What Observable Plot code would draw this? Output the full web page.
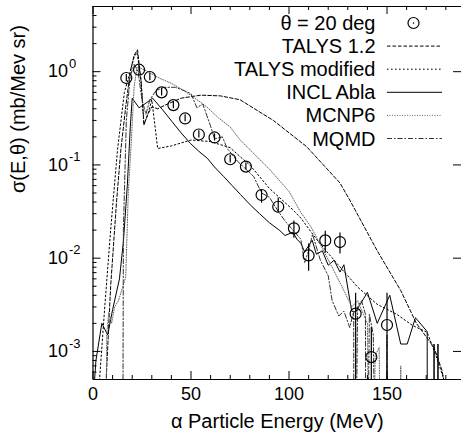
<!DOCTYPE html>
<html><head><meta charset="utf-8">
<script src="https://cdn.jsdelivr.net/npm/d3@7"></script>
<script src="https://cdn.jsdelivr.net/npm/@observablehq/plot@0.6"></script>
<style>body{margin:0;background:#fff}</style>
</head><body><div id="chart"></div>
<script>
// ---- data ----
const expE  = [17, 23.5, 29, 35, 41, 47, 54, 62, 70, 78, 86, 94.5, 102.5, 110, 118.5, 126, 134, 142, 150];
const expV  = [0.855, 1.05, 0.877, 0.60, 0.438, 0.315, 0.212, 0.197, 0.115, 0.096, 0.0476, 0.0356, 0.0209, 0.0107, 0.0155, 0.0149, 0.00254, 0.00087, 0.00192];
const expLo = [0.78, 0.96, 0.80, 0.55, 0.40, 0.29, 0.194, 0.18, 0.105, 0.088, 0.0389, 0.0305, 0.0164, 0.00724, 0.0113, 0.0111, 0.0001, 0.0001, 0.0001];
const expHi = [0.93, 1.15, 0.96, 0.66, 0.48, 0.345, 0.232, 0.215, 0.126, 0.105, 0.0538, 0.0442, 0.025, 0.01415, 0.0195, 0.0186, 0.0042, 0.0018, 0.0042];

const talys12E = [6.5, 9, 12, 14.2, 16.7, 19, 21, 22.7, 24.5, 26, 28, 30, 33, 38, 45, 55, 65, 75, 92, 109, 126, 131, 145, 157, 165, 174, 178, 181];
const talys12V = [0.0004, 0.005, 0.04, 0.145, 0.42, 1.0, 1.5, 1.72, 0.8, 0.27, 0.35, 0.42, 0.4, 0.45, 0.52, 0.56, 0.55, 0.5, 0.3, 0.157, 0.064, 0.042, 0.012, 0.0045, 0.002, 0.0011, 0.00063, 0.0003];

const talysModE = [3, 6, 9, 12.5, 16, 19, 21, 22.5, 24.5, 26, 28, 30, 33, 40, 50, 60, 70, 75, 80, 90, 102, 106, 115, 125, 135, 145, 155, 163, 170.5, 175, 179];
const talysModV = [0.0004, 0.003, 0.02, 0.145, 0.6, 1.0, 1.45, 1.6, 0.8, 0.27, 0.35, 0.5, 0.15, 0.16, 0.185, 0.178, 0.153, 0.123, 0.1, 0.056, 0.033, 0.027, 0.015, 0.0085, 0.0049, 0.0032, 0.0025, 0.0019, 0.0016, 0.0009, 0.0005];

const inclE = [0.5, 1.5, 4.5, 7.5, 10, 13.5, 15.5, 17.5, 19, 20, 23.5, 27, 30.4, 35.5, 40.4, 45, 49.7, 54, 58.3, 62, 66.7, 71, 75.3, 80.4, 85, 90, 95, 98, 102, 104, 106, 108, 111.8, 114, 117, 120, 123, 126, 128, 132, 134, 140, 145, 151.4, 157, 160.3, 164.5, 170.5, 170.6, 173.8, 174, 174.2, 175.8, 176, 176.2];
const inclV = [0.0004, 0.0008, 0.002, 0.0015, 0.0028, 0.006, 0.015, 0.06, 0.25, 0.52, 0.41, 0.46, 0.52, 0.39, 0.29, 0.22, 0.17, 0.14, 0.118, 0.095, 0.075, 0.06, 0.048, 0.037, 0.03, 0.024, 0.02, 0.0175, 0.019, 0.016, 0.0145, 0.0117, 0.0156, 0.011, 0.012, 0.0084, 0.0095, 0.0071, 0.0085, 0.0027, 0.00265, 0.0043, 0.002, 0.004, 0.0012, 0.0012, 0.0023, 0.00163, 0.000001, 0.000001, 0.0012, 0.000001, 0.000001, 0.0012, 0.000001];

const mcnpE = [6, 7, 8, 9.5, 11, 13, 16.7, 18, 19.3, 21, 22.5, 24, 28, 34, 40, 45.7, 52, 58, 64, 70, 75, 90, 100, 106, 111, 116, 122, 128, 132, 135, 138, 140, 141.5, 144, 146, 147.5, 156, 157, 158];
const mcnpV = [0.000001, 0.0015, 0.0026, 0.002, 0.003, 0.0035, 0.0063, 0.05, 0.145, 0.7, 1.12, 1.1, 1.0, 0.85, 0.75, 0.64, 0.52, 0.42, 0.32, 0.255, 0.186, 0.09, 0.052, 0.031, 0.022, 0.014, 0.008, 0.0045, 0.003, 0.0035, 0.0025, 0.002, 0.000001, 0.0009, 0.0011, 0.000001, 0.000001, 0.0007, 0.000001];

const mqmdE = [15, 15.5, 17, 19, 21, 23, 25, 27, 29, 32, 36, 42, 47, 50, 53, 56, 60, 62, 66, 68.5, 73.6, 78, 82, 86, 90, 94, 98, 102, 106, 108, 110, 112, 116, 120, 122, 125.4, 128, 131, 133, 133.2, 135, 137, 139, 139.2, 141, 143, 145, 149.8, 150, 150.2];
const mqmdV = [0.000001, 0.02, 0.3, 0.9, 1.2, 1.0, 0.5, 0.35, 0.5, 0.62, 0.68, 0.68, 0.62, 0.58, 0.41, 0.45, 0.26, 0.19, 0.2, 0.15, 0.11, 0.09, 0.075, 0.05, 0.045, 0.033, 0.025, 0.02, 0.016, 0.009, 0.012, 0.018, 0.0095, 0.0065, 0.0035, 0.0024, 0.0027, 0.0018, 0.0027, 0.000001, 0.003, 0.0035, 0.0025, 0.000001, 0.0025, 0.0015, 0.000001, 0.000001, 0.0015, 0.000001];

const seriesNames = ["TALYS 1.2", "TALYS modified", "INCL Abla", "MCNP6", "MQMD"];
const expName = "θ = 20 deg";
const xMajor = [0, 50, 100, 150];
const xMinor = [10, 20, 30, 40, 60, 70, 80, 90, 110, 120, 130, 140, 160, 170, 180];
const yMajor = [1e-3, 1e-2, 1e-1, 1e0];
const yExp = ["-3", "-2", "-1", "0"];
const xLabel = "α Particle Energy (MeV)";
const yLabel = "σ(E,θ) (mb/Mev sr)";

// ---- styles ----
const styles = [
  {stroke: "#000", dash: "3.5,2"},
  {stroke: "#000", dash: "1.6,2.4"},
  {stroke: "#000", dash: null},
  {stroke: "#666", dash: "1,1.5"},
  {stroke: "#333", dash: "5,2,1.5,2"}
];
const seriesData = [
  [talys12E, talys12V], [talysModE, talysModV], [inclE, inclV], [mcnpE, mcnpV], [mqmdE, mqmdV]
];
const toRows = ([E, V]) => E.map((e, i) => ({e, v: V[i]}));
const expRows = expE.map((e, i) => ({e, v: expV[i], lo: expLo[i], hi: expHi[i]}));

const yMinor = [];
for (let d = -4; d <= 0; d++) for (let m = 2; m <= 9; m++) {
  const v = m * Math.pow(10, d);
  if (v > 5e-4 && v < 5) yMinor.push(v);
}

const W = 461, H = 442, mL = 92.5, mR = 0, mT = 6, mB = 63;
const fw = W - mL - mR, fh = H - mT - mB;
const font = "Liberation Sans, Arial, Helvetica, sans-serif";

const lineMarks = seriesData.map((s, i) => Plot.line(toRows(s), {
  x: "e", y: "v", stroke: styles[i].stroke, strokeWidth: 1,
  strokeDasharray: styles[i].dash, clip: true
}));

const chart = Plot.plot({
  width: W, height: H,
  marginLeft: mL, marginRight: mR, marginTop: mT, marginBottom: mB,
  x: {type: "linear", domain: [0, 188], axis: null},
  y: {type: "log", domain: [5e-4, 5], axis: null},
  style: {fontFamily: font, background: "white", overflow: "visible"},
  marks: [
    ...lineMarks,
    Plot.ruleX(expRows, {x: "e", y1: "lo", y2: "hi", stroke: "#000", strokeWidth: 1.2, clip: true}),
    Plot.dot(expRows, {x: "e", y: "v", r: 5.5, stroke: "#000", strokeWidth: 1.2, fill: "none"}),
    // frame (left, top, bottom)
    Plot.ruleX([0], {stroke: "#000", strokeWidth: 1.2}),
    Plot.ruleY([5e-4, 5], {stroke: "#000", strokeWidth: 1.2}),
    // ticks
    Plot.tickY(yMajor, {y: d => d, insetRight: fw - 8, stroke: "#000"}),
    Plot.tickY(yMinor, {y: d => d, insetRight: fw - 4, stroke: "#000"}),
    Plot.tickY(yMajor, {y: d => d, insetLeft: fw - 8, stroke: "#000"}),
    Plot.tickX(xMajor, {x: d => d, insetTop: fh - 8, stroke: "#000"}),
    Plot.tickX(xMinor, {x: d => d, insetTop: fh - 4, stroke: "#000"}),
    Plot.tickX(xMajor, {x: d => d, insetBottom: fh - 8, stroke: "#000"}),
    Plot.tickX(xMinor, {x: d => d, insetBottom: fh - 4, stroke: "#000"}),
    // tick labels
    Plot.text(xMajor, {x: d => d, frameAnchor: "bottom", dy: 20, text: d => String(d), fontSize: 18, fill: "#000"}),
    Plot.text(yMajor, {y: d => d, frameAnchor: "left", dx: -25, text: () => "10", textAnchor: "end", fontSize: 18, fill: "#000"}),
    Plot.text(yMajor, {y: d => d, frameAnchor: "left", dx: -24, dy: -8, text: (d, i) => yExp[i], textAnchor: "start", fontSize: 13, fill: "#000"}),
    // axis labels
    Plot.text([xLabel], {frameAnchor: "bottom", dy: 48, fontSize: 20, fill: "#000"}),
    Plot.text([yLabel], {frameAnchor: "left", dx: -74, rotate: -90, fontSize: 20, fill: "#000"})
  ]
});
document.getElementById("chart").appendChild(chart);

// legend
const svg = d3.select(chart);
const lg = svg.append("g").attr("font-family", font).attr("font-size", 20);
const legendRows = [expName, ...seriesNames];
legendRows.forEach((name, i) => {
  const y = 23 + i * 23.1;
  lg.append("text").attr("x", 375.5).attr("y", y).attr("dy", "0.35em")
    .attr("text-anchor", "end").attr("fill", "#000").text(name);
  if (i === 0) {
    lg.append("circle").attr("cx", 413.5).attr("cy", y).attr("r", 5.5)
      .attr("fill", "none").attr("stroke", "#000").attr("stroke-width", 1.2);
    lg.append("circle").attr("cx", 413.5).attr("cy", y).attr("r", 0.8).attr("fill", "#000");
  } else {
    const s = styles[i - 1];
    lg.append("line").attr("x1", 387).attr("x2", 442).attr("y1", y).attr("y2", y)
      .attr("stroke", s.stroke).attr("stroke-width", 1)
      .attr("stroke-dasharray", s.dash);
  }
});
</script>
</body></html>
